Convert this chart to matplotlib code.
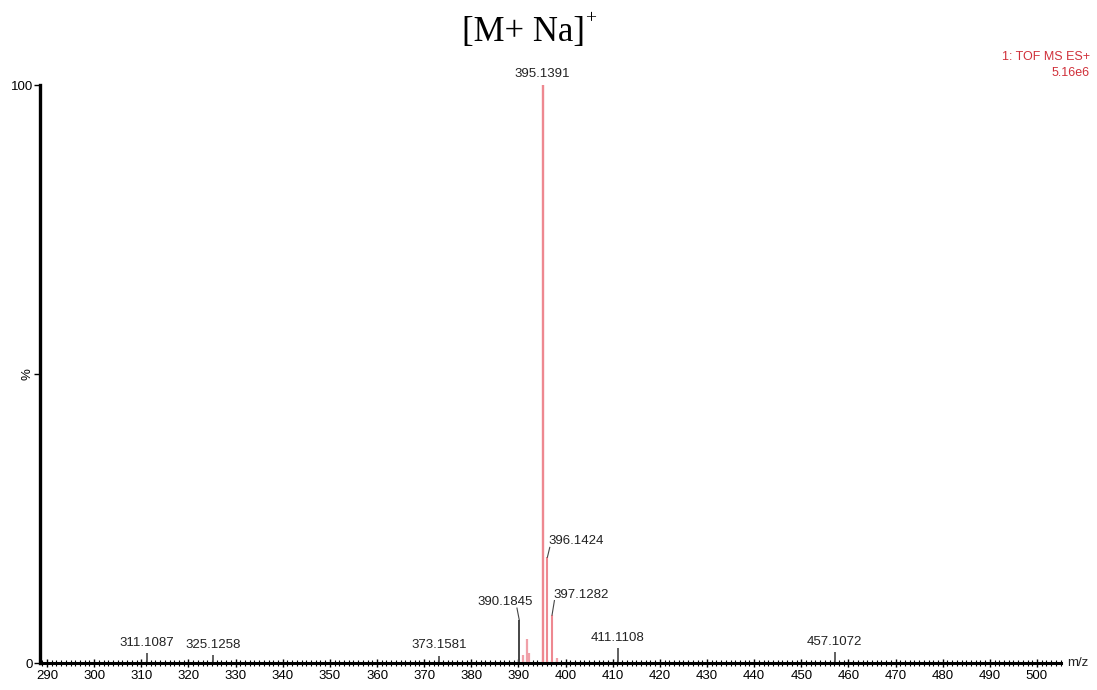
import matplotlib
matplotlib.use("Agg")
import matplotlib.pyplot as plt
from matplotlib.ticker import MultipleLocator

# ---- data ----
labeled_mz = [311.1087, 325.1258, 373.1581, 390.1845, 395.1391, 396.1424, 397.1282, 411.1108, 457.1072]
labeled_int = [1.7, 1.4, 1.2, 7.4, 100.0, 18.3, 8.3, 2.6, 1.9]
labeled_text = ["311.1087", "325.1258", "373.1581", "390.1845", "395.1391",
                "396.1424", "397.1282", "411.1108", "457.1072"]
minor_mz = [391.0, 391.9, 392.2, 398.1]
minor_int = [1.4, 4.2, 1.7, 0.9]

x_min, x_max = 288.5, 505.1
xtick_major = list(range(290, 501, 10))

# ---- styles ----
red = "#ee8890"
dark = "#454545"
peak_colors = [dark, dark, dark, dark, red, red, red, dark, dark]
peak_widths = [1.2, 1.2, 1.2, 1.4, 1.7, 1.5, 1.5, 1.2, 1.2]

plt.rcParams['font.family'] = ['Liberation Sans', 'DejaVu Sans']

fig = plt.figure(figsize=(10.97, 6.9), dpi=100)
ax = fig.add_axes([40 / 1097, 27 / 690, 1021 / 1097, 578 / 690])

ax.vlines(labeled_mz, 0, labeled_int, colors=peak_colors, linewidth=peak_widths)
ax.vlines(minor_mz, 0, minor_int, colors="#f0a0a8", linewidth=1.6)

ax.set_xlim(x_min, x_max)
ax.set_ylim(0, 100)

for s in ["top", "right"]:
    ax.spines[s].set_visible(False)
ax.spines["left"].set_linewidth(2.4)
ax.spines["bottom"].set_linewidth(2.2)

ax.set_xticks(xtick_major)
ax.set_xticklabels([str(v) for v in xtick_major], fontsize=9.5)
ax.xaxis.set_minor_locator(MultipleLocator(1))
ax.tick_params(axis="x", which="major", direction="inout", length=6, width=1.0, pad=2)
ax.tick_params(axis="x", which="minor", direction="inout", length=4, width=0.8)

ax.set_yticks([0, 50, 100])
ax.set_yticklabels(["0", "%", "100"], fontsize=9.5)
ax.tick_params(axis="y", direction="out", length=4, width=1.0, pad=1)
for lbl in ax.get_yticklabels():
    if lbl.get_text() == "%":
        lbl.set_rotation(90)
        lbl.set_va("center")

# peak labels
label_pos = {
    "311.1087": (311.1087, 2.4, None),
    "325.1258": (325.1258, 2.1, None),
    "373.1581": (373.1581, 2.1, None),
    "390.1845": (387.2, 9.5, (390.1845, 7.4)),
    "395.1391": (395.1391, 100.8, None),
    "396.1424": (402.2, 20.0, (396.1424, 18.3)),
    "397.1282": (403.3, 10.8, (397.1282, 8.3)),
    "411.1108": (411.1108, 3.3, None),
    "457.1072": (457.1072, 2.6, None),
}
for txt in labeled_text:
    lx, ly, anchor = label_pos[txt]
    ax.text(lx, ly, txt, ha="center", va="bottom", fontsize=9.5, color="#222222")
    if anchor is not None:
        ax.plot([anchor[0], anchor[0] + (0.5 if lx > anchor[0] else -0.5)],
                [anchor[1], ly], color=dark, linewidth=0.8)

ax.text(1.006, 0.0, "m/z", transform=ax.transAxes, ha="left", va="center",
        fontsize=9.5, color="#222222")

serif = ["Liberation Serif", "DejaVu Serif"]
fig.text(523 / 1097, 1 - 32 / 690, "[M+ Na]", ha="center", va="center",
         fontsize=25, family=serif)
fig.text(585 / 1097, 1 - 19 / 690, "+", ha="left", va="center",
         fontsize=14, family=serif)
fig.text(1090 / 1097, 1 - 57 / 690, "1: TOF MS ES+", ha="right", va="center",
         fontsize=9, color="#d0303a")
fig.text(1090 / 1097, 1 - 73 / 690, "5.16e6", ha="right", va="center",
         fontsize=9, color="#d0303a")

fig.savefig("out.png", dpi=100)
